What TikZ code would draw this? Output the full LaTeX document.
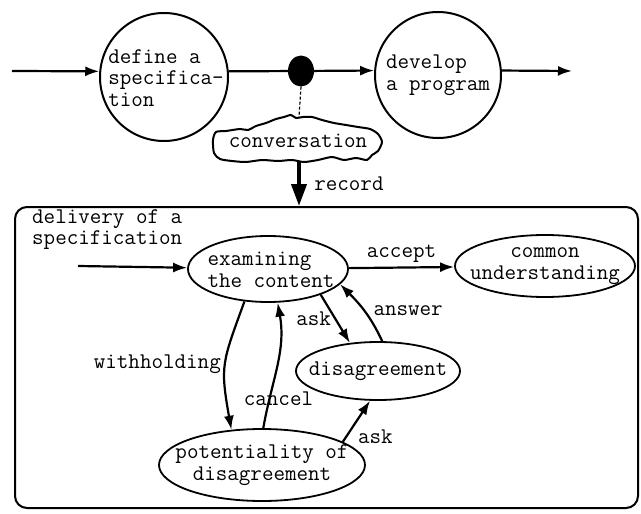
\documentclass[tikz,border=0pt]{standalone}
\usetikzlibrary{shapes.geometric,arrows.meta}

\begin{document}
\begin{tikzpicture}[x=1pt, y=-1pt,
	font=\ttfamily\fontsize{22.4}{21.5}\selectfont,
	activity/.style={
		% The shape:
		circle,
		inner sep=0pt,
		% The border:
		draw,
		line width=2pt
		},
	state/.style={
		% The shape:
		ellipse,
		inner sep=0pt,
		% The border:
		draw,
		line width=1.8pt
		},
	flow/.style={
		line width=2.2pt,
		-{Latex[length=14pt,width=10pt]}
		}]
	\useasboundingbox (0,0) rectangle (641,514);

	% the process on top
	\node (define) [activity, minimum size=128pt] at (164,77) {};
	\node (definetext) [align=left] at (166,78) {define a\\specifica-\\tion};
	\node (cue) [ellipse, fill, inner sep=0pt, minimum width=26pt, minimum height=31pt] at (301,71) {};
	\node (develop) [activity, minimum size=126pt] at (438,75) {};
	\node (developtext) [align=left] at (develop) {develop\\a program};
	\coordinate (start) at (12,71);
	\coordinate (finish) at (572,71);

	\path (start) edge[flow] (define.175);
	\path (define.5) edge[line width=2.2pt] (cue);
	\path (cue) edge[flow] (develop.176);
	\path (develop.4) edge[flow] (finish);

	% the conversation
	\node (conv) at (298,141) {conversation};
	\draw[line width=2pt, line join=round] plot[smooth cycle, tension=0.45] coordinates {
		(213,140) (216,132) (226,131) (240,129) (248,130) (256,126) (266,123)
		(276,119) (284,117) (291,115) (296,118) (303,117) (312,117) (322,120)
		(334,123) (346,125) (358,127) (370,129) (378,134) (382,142) (378,151)
		(372,155) (367,160) (356,158) (344,160) (332,157) (318,160) (304,162)
		(292,160) (278,161) (262,160) (246,162) (232,161) (220,159) (214,153)};
	\coordinate (convtop) at (299,117);
	\coordinate (convbottom) at (299,162);
	\draw[densely dashed, line width=1.2pt] (cue.south) -- (convtop);

	% the frame
	\node (frame) [draw, line width=2pt, rounded corners=12pt, inner sep=0pt,
		minimum width=623pt, minimum height=301pt] at (326.5,357.5) {};
	\path (convbottom) edge[line width=4pt, -{Triangle[length=22pt,width=15pt]}]
		node[right=10pt] {record} (convbottom |- frame.north);

	% the states
	\node (delivery) [align=left, anchor=north west, inner sep=0pt] at (32,209) {delivery of a\\specification};
	\coordinate (entry) at (78,266);
	\node (exam) [state, minimum width=160pt, minimum height=66pt] at (268,269) {};
	\node (examtext) [align=left] at (271,270) {examining\\the content};
	\node (common) [state, minimum width=180pt, minimum height=62pt] at (545,266) {};
	\node (commontext) [align=center] at (common) {common\\understanding};
	\node (disag) [state, minimum width=164pt, minimum height=58pt] at (378,371) {};
	\node (disagtext) at (disag) {disagreement};
	\node (potent) [state, minimum width=206pt, minimum height=72pt] at (262,465) {};
	\node (potenttext) [align=center] at (potent) {potentiality of\\disagreement};

	\path (entry) edge[flow] (exam);
	\path (exam) edge[flow] node[above=1pt] {accept} (common);
	\path (exam.234) edge[flow, out=250, in=100, looseness=1.3] node[left] {withholding} (potent.131);
	\path (potent.88) edge[flow, out=80, in=-80] node[pos=0.22, xshift=9pt] {cancel} (exam.286);
	\path (exam.334) edge[flow] node[left] {ask} (disag.135);
	\path (disag.82) edge[flow, out=115, in=-45] node[right=5pt] {answer} (exam.348);
	\path (potent.16) edge[flow] node[below right, pos=0.4] {ask} (disag.255);

\end{tikzpicture}
\end{document}
